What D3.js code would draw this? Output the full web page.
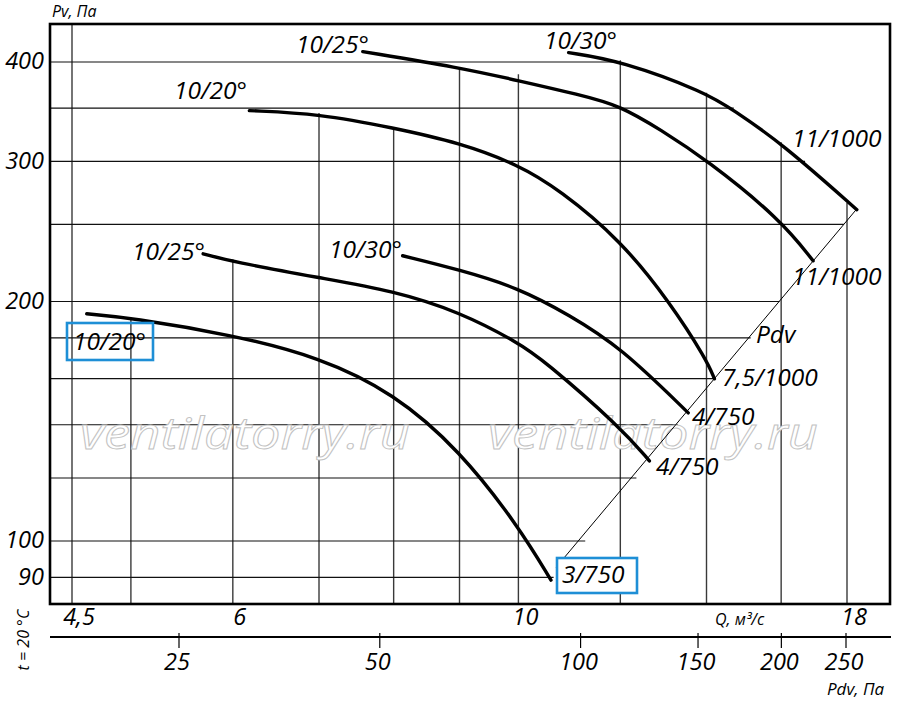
<!DOCTYPE html>
<html>
<head>
<meta charset="utf-8">
<script src="https://cdnjs.cloudflare.com/ajax/libs/d3/7.8.5/d3.min.js"></script>
<style>
  body { margin: 0; background: #fff; }
  svg text { font-family: "Open Sans", "Noto Sans", sans-serif; font-style: italic; fill: #000; }
</style>
</head>
<body>
<svg width="900" height="712"></svg>
<script>
// grid values (Q in m3/s, Pv in Pa)
var qGrid = [4.5, 5, 6, 7, 8, 9, 10, 12, 14, 16, 18];
var qGridTop = [null, 191, 226, 345, 330, 394, 386, 402, 366, 317, 266]; // Pv where a vertical line stops (null = full)
var qLabels = [4.5, 6, 10, 18];
var pGrid = [90, 100, 120, 140, 160, 180, 200, 250, 300, 350, 400];
var pGridEnd = [10.65, 11.27, 12.35, 13.3, 14.2, 15.15, 15.95, 17.9, 16.7, 14.7, 12.0]; // Q where a horizontal line stops
var pLabels = [90, 100, 200, 300, 400];
var pdvTicks = [25, 50, 100, 150, 200, 250];

// curves
var q1 = [4.62, 5, 6, 7, 8, 9, 10, 10.6];
var pv1 = [193, 190.8, 181.5, 170.3, 153.5, 130.1, 104.4, 89.3];
var q2 = [5.69, 6, 7, 8, 9, 10, 10.45, 12, 12.64];
var pv2 = [229.6, 224.4, 214.2, 206.3, 194.1, 177.5, 169, 139.1, 126.1];
var q3 = [8.13, 9, 10, 10.95, 12, 13.55];
var pv3 = [228.3, 219.2, 208.1, 192.4, 175.4, 144.9];
var q4 = [6.18, 7, 8, 9, 10, 10.76, 12, 13.12, 14, 14.2];
var pv4 = [347.5, 344.4, 330.5, 316.7, 297.1, 276.4, 239.1, 199.3, 169, 159.9];
var q5 = [7.57, 9, 10, 11.15, 12, 12.89, 14, 16, 16.94];
var pv5 = [412.2, 393.6, 379, 363.9, 352.5, 328.9, 301.5, 253.3, 225];
var q6 = [10.94, 12, 14, 14.67, 16, 18.32];
var pv6 = [411, 401.6, 366, 348.4, 316.7, 260.9];

var startNames = ["10/20°", "10/25°", "10/30°", "10/20°", "10/25°", "10/30°"];
var endNames = ["3/750", "4/750", "4/750", "7,5/1000", "11/1000", "11/1000"];

// Pdv line (through curve ends)
var pdvLineQ = [10.7, 18.32];
var pdvLinePv = [92.7, 261.5];

// label anchors (left, baseline) in px
var startPos = [[73, 350], [132, 260], [329, 258], [174, 99], [296, 53], [544, 49]];
var endPos = [[562, 583], [656, 475], [692, 425], [722, 386], [792, 285], [792, 147]];

var svg = d3.select("svg"),
    frame = {left: 50, top: 24, right: 890, bottom: 604},
    axis2Y = 637,
    blue = "#1e8fd6";

var x = d3.scaleLog().domain([4.5, 18]).range([72, 847]),
    y = d3.scaleLog().domain([100, 400]).range([541, 62]),
    xp = d3.scaleLog().domain([25, 250]).range([179, 846]);

var fmt = function(d) { return String(d).replace(".", ","); };

// grid
var grid = svg.append("g").attr("class", "grid");

grid.selectAll(".vline")
  .data(qGrid)
  .enter().append("line")
    .attr("x1", function(d) { return x(d); })
    .attr("x2", function(d) { return x(d); })
    .attr("y1", function(d, i) { return qGridTop[i] ? y(qGridTop[i]) : frame.top; })
    .attr("y2", frame.bottom)
    .attr("stroke", "#3a3a3a")
    .attr("stroke-width", 1.4);

grid.selectAll(".hline")
  .data(pGrid)
  .enter().append("line")
    .attr("x1", frame.left)
    .attr("x2", function(d, i) { return x(pGridEnd[i]); })
    .attr("y1", function(d) { return y(d); })
    .attr("y2", function(d) { return y(d); })
    .attr("stroke", "#111")
    .attr("stroke-width", 1.2);

// watermark
svg.selectAll(".wm")
  .data([80, 488])
  .enter().append("text")
    .attr("x", function(d) { return d; })
    .attr("y", 449)
    .attr("textLength", 330)
    .attr("lengthAdjust", "spacingAndGlyphs")
    .style("font-size", "43px")
    .style("fill", "#fff")
    .style("stroke", "#c2c2c2")
    .style("stroke-width", 0.9)
    .text("ventilatorry.ru");

// frame
svg.append("rect")
    .attr("x", frame.left)
    .attr("y", frame.top)
    .attr("width", frame.right - frame.left)
    .attr("height", frame.bottom - frame.top)
    .attr("fill", "none")
    .attr("stroke", "#000")
    .attr("stroke-width", 2.6);

var line = d3.line()
    .curve(d3.curveBasis)
    .x(function(d) { return x(d[0]); })
    .y(function(d) { return y(d[1]); });

// Pdv line
svg.append("path")
    .attr("d", line(d3.zip(pdvLineQ, pdvLinePv)))
    .attr("fill", "none")
    .attr("stroke", "#000")
    .attr("stroke-width", 1);

// fan curves
var series = [[q1, pv1], [q2, pv2], [q3, pv3], [q4, pv4], [q5, pv5], [q6, pv6]];

svg.selectAll(".curve")
  .data(series)
  .enter().append("path")
    .attr("class", "curve")
    .attr("d", function(s) { return line(d3.zip(s[0], s[1])); })
    .attr("fill", "none")
    .attr("stroke", "#000")
    .attr("stroke-width", 3.4)
    .attr("stroke-linecap", "round");

// boxes
svg.append("rect")
    .attr("x", 67).attr("y", 323).attr("width", 86).attr("height", 37)
    .attr("fill", "none").attr("stroke", blue).attr("stroke-width", 2.6);
svg.append("rect")
    .attr("x", 557).attr("y", 558).attr("width", 80).attr("height", 35)
    .attr("fill", "#fff").attr("stroke", blue).attr("stroke-width", 2.6);

// curve labels
svg.selectAll(".slab")
  .data(startNames)
  .enter().append("text")
    .attr("x", function(d, i) { return startPos[i][0]; })
    .attr("y", function(d, i) { return startPos[i][1]; })
    .style("font-size", "24.5px")
    .text(function(d) { return d; });

svg.selectAll(".elab")
  .data(endNames)
  .enter().append("text")
    .attr("x", function(d, i) { return endPos[i][0]; })
    .attr("y", function(d, i) { return endPos[i][1]; })
    .style("font-size", "24.5px")
    .text(function(d) { return d; });

svg.append("text")
    .attr("x", 756).attr("y", 343)
    .style("font-size", "24.5px")
    .text("Pdv");

// Pv axis labels
svg.selectAll(".ylab")
  .data(pLabels)
  .enter().append("text")
    .attr("x", 44)
    .attr("y", function(d) { return y(d) - 1; })
    .attr("dy", "0.36em")
    .attr("text-anchor", "end")
    .style("font-size", "23.5px")
    .text(function(d) { return d; });

svg.append("text")
    .attr("x", 52).attr("y", 17)
    .style("font-size", "16px")
    .text("Pv, Па");

// Q axis labels
svg.selectAll(".xlab")
  .data(qLabels)
  .enter().append("text")
    .attr("x", function(d) { return x(d) + 7; })
    .attr("y", 625)
    .attr("text-anchor", "middle")
    .style("font-size", "23.5px")
    .text(fmt);

svg.append("text")
    .attr("x", 715).attr("y", 625)
    .style("font-size", "16px")
    .text("Q, м³/с");

// Pdv axis
svg.append("line")
    .attr("x1", frame.left).attr("x2", frame.right + 1)
    .attr("y1", axis2Y).attr("y2", axis2Y)
    .attr("stroke", "#000").attr("stroke-width", 2.2);

var pdvAxis = svg.append("g").selectAll("g")
  .data(pdvTicks)
  .enter().append("g")
    .attr("transform", function(d) { return "translate(" + xp(d) + ",0)"; });

pdvAxis.append("line")
    .attr("y1", 633).attr("y2", 648)
    .attr("stroke", "#000").attr("stroke-width", 1.2);

pdvAxis.append("text")
    .attr("x", -2)
    .attr("y", 670)
    .attr("text-anchor", "middle")
    .style("font-size", "23.5px")
    .text(function(d) { return d; });

svg.append("text")
    .attr("x", 827).attr("y", 695)
    .style("font-size", "17px")
    .text("Pdv, Па");

svg.append("text")
    .attr("transform", "translate(29,640) rotate(-90)")
    .attr("text-anchor", "middle")
    .style("font-size", "16px")
    .text("t = 20 °C");
</script>
</body>
</html>
